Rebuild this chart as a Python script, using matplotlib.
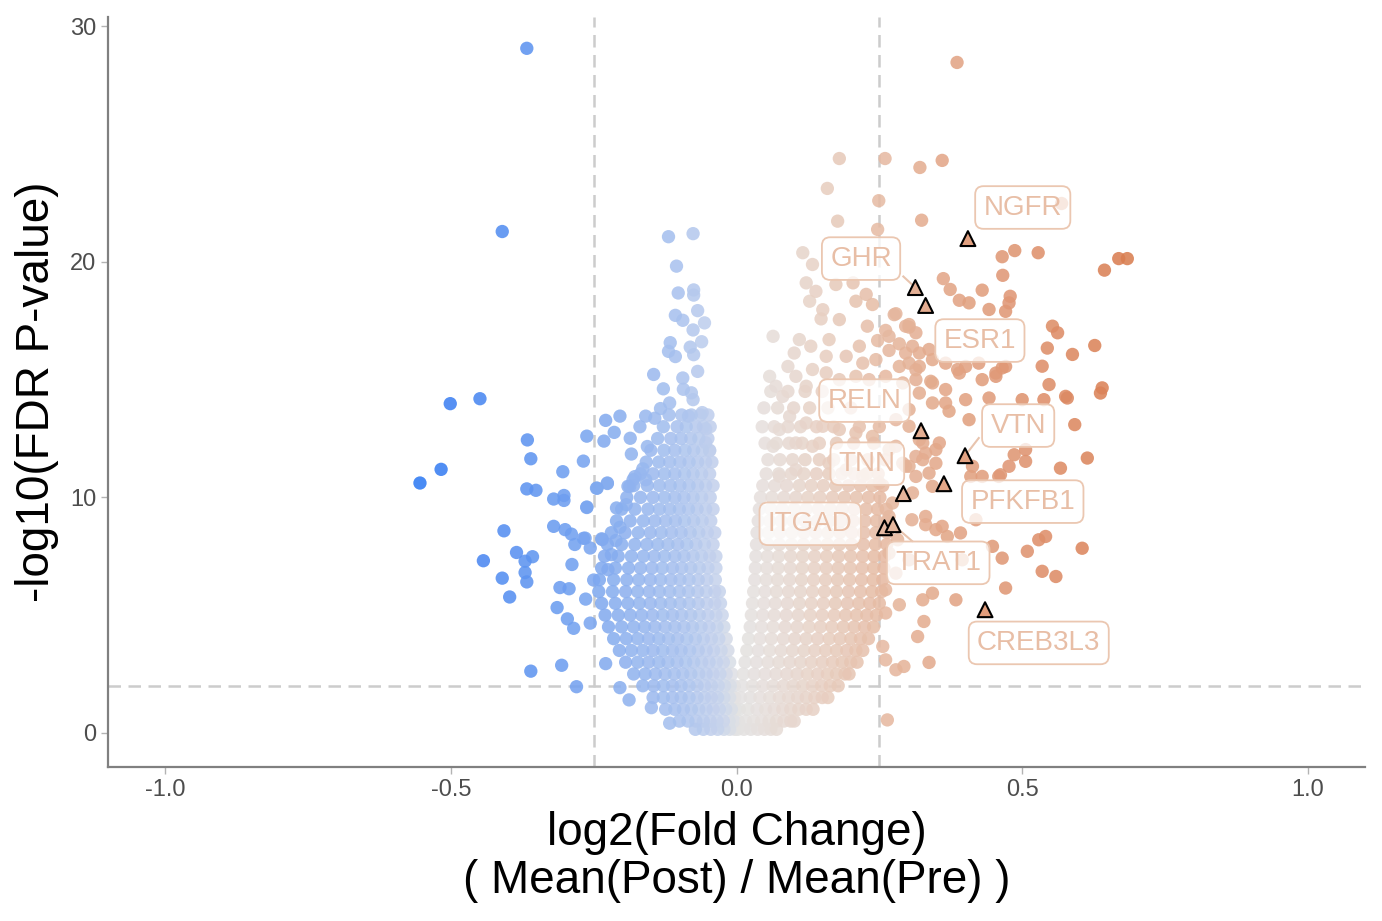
#!/usr/bin/env python3
# -*- coding: utf-8 -*-
'''
Volcano plot: log2 fold change (post / pre) against -log10 FDR p-value.
Values were read off the reference picture by eye.
'''

import numpy as np
import matplotlib
matplotlib.use('Agg')
from matplotlib import pyplot as plt
from matplotlib.colors import LinearSegmentedColormap, Normalize

## thresholds
fc_cut = 0.25
p_cut = 2.0

## isolated down-regulated genes (x = log2FC, y = -log10 FDR)
blue_pts = [
    (-0.367, 29.07), (-0.410, 21.29), (-0.501, 13.98), (-0.449, 14.19), (-0.517, 11.19), (-0.554, 10.61),
    (-0.366, 12.44), (-0.360, 11.64), (-0.367, 10.36), (-0.351, 10.30), (-0.304, 11.09), (-0.268, 11.54),
    (-0.262, 12.60), (-0.229, 13.27), (-0.204, 13.45), (-0.232, 12.39), (-0.214, 12.76), (-0.186, 12.51),
    (-0.184, 11.84), (-0.156, 12.16), (-0.169, 13.00), (-0.159, 13.45), (-0.143, 13.36), (-0.320, 9.93),
    (-0.302, 10.08), (-0.302, 9.87), (-0.262, 9.57), (-0.244, 10.39), (-0.226, 10.59), (-0.187, 10.46),
    (-0.178, 10.88), (-0.164, 11.21), (-0.159, 10.75), (-0.145, 15.22), (-0.128, 14.61), (-0.117, 14.01),
    (-0.133, 13.77), (-0.119, 21.07), (-0.076, 21.20), (-0.105, 19.82), (-0.102, 18.68), (-0.075, 18.81),
    (-0.075, 18.59), (-0.107, 17.73), (-0.094, 17.52), (-0.068, 17.93), (-0.056, 17.41), (-0.076, 17.11),
    (-0.116, 16.57), (-0.119, 16.20), (-0.107, 15.98), (-0.081, 16.38), (-0.061, 16.61), (-0.075, 16.06),
    (-0.068, 15.35), (-0.094, 15.07), (-0.093, 14.59), (-0.079, 14.44), (-0.076, 14.15), (-0.060, 13.60),
    (-0.084, 13.45), (-0.054, 12.91), (-0.054, 12.32), (-0.047, 11.98), (-0.407, 8.58), (-0.443, 7.31),
    (-0.385, 7.66), (-0.370, 7.29), (-0.357, 7.48), (-0.370, 6.81), (-0.367, 6.41), (-0.410, 6.57),
    (-0.397, 5.77), (-0.320, 8.77), (-0.300, 8.63), (-0.289, 8.44), (-0.268, 8.26), (-0.283, 8.00),
    (-0.256, 7.85), (-0.288, 7.15), (-0.235, 8.21), (-0.211, 8.17), (-0.204, 8.73), (-0.309, 6.17),
    (-0.293, 6.12), (-0.314, 5.32), (-0.296, 4.84), (-0.285, 4.44), (-0.264, 5.68), (-0.256, 4.66),
    (-0.250, 6.49), (-0.360, 2.62), (-0.306, 2.87), (-0.280, 1.96), (-0.229, 2.94), (-0.188, 1.40),
    (-0.149, 1.07), (-0.117, 0.41), (-0.204, 1.92), (-0.181, 10.75), (-0.190, 10.47), (-0.226, 10.61),
    (-0.245, 10.39), (-0.262, 9.59), (-0.210, 9.55), (-0.193, 9.69), (-0.236, 8.24), (-0.265, 8.27),
    (-0.219, 7.57), (-0.225, 6.93),
]

## isolated up-regulated / upper right genes
orange_pts = [
    (0.386, 28.47), (0.180, 24.39), (0.260, 24.39), (0.360, 24.31), (0.321, 24.01), (0.159, 23.12),
    (0.249, 22.60), (0.324, 21.77), (0.177, 21.73), (0.569, 22.48), (0.247, 21.38), (0.116, 20.39),
    (0.133, 19.89), (0.465, 20.22), (0.487, 20.48), (0.528, 20.39), (0.669, 20.14), (0.684, 20.14),
    (0.644, 19.65), (0.466, 19.43), (0.362, 19.29), (0.374, 18.83), (0.390, 18.37), (0.407, 18.26),
    (0.430, 18.80), (0.442, 17.98), (0.471, 17.90), (0.479, 18.54), (0.477, 18.26), (0.553, 17.27),
    (0.562, 16.99), (0.627, 16.45), (0.588, 16.07), (0.544, 16.34), (0.535, 15.57), (0.547, 14.79),
    (0.640, 14.65), (0.637, 14.43), (0.579, 14.22), (0.500, 14.15), (0.538, 14.15), (0.576, 14.29),
    (0.592, 13.09), (0.614, 11.67), (0.567, 11.24), (0.442, 14.22), (0.407, 13.30), (0.276, 17.76),
    (0.302, 17.34), (0.314, 16.99), (0.337, 16.28), (0.229, 17.27), (0.267, 16.84), (0.366, 15.70),
    (0.387, 15.43), (0.430, 15.00), (0.454, 15.14), (0.465, 15.50), (0.340, 14.93), (0.366, 14.58),
    (0.401, 14.15), (0.372, 13.66), (0.296, 17.27), (0.308, 16.42), (0.320, 16.13), (0.343, 15.85),
    (0.390, 15.28), (0.401, 15.56), (0.424, 15.70), (0.454, 15.28), (0.471, 15.56), (0.320, 15.56),
    (0.296, 16.13), (0.343, 14.86), (0.343, 14.01), (0.366, 14.01), (0.320, 14.43), (0.302, 13.73),
    (0.506, 12.03), (0.506, 11.53), (0.486, 11.81), (0.459, 10.89), (0.430, 10.89), (0.477, 11.32),
    (0.410, 10.89), (0.413, 11.32), (0.462, 10.96), (0.320, 12.45), (0.355, 12.31), (0.331, 11.88),
    (0.349, 11.45), (0.296, 11.32), (0.314, 10.89), (0.343, 10.47), (0.308, 10.19), (0.331, 9.19),
    (0.360, 8.77), (0.392, 8.49), (0.419, 9.05), (0.529, 8.20), (0.541, 8.34), (0.509, 7.71),
    (0.535, 6.86), (0.559, 6.64), (0.605, 7.84), (0.465, 7.42), (0.471, 6.15), (0.448, 7.92),
    (0.395, 7.35), (0.384, 5.65), (0.343, 5.93), (0.326, 5.65), (0.328, 4.73), (0.317, 4.09),
    (0.285, 5.44), (0.337, 2.99), (0.293, 2.82), (0.264, 0.55), (0.261, 3.10), (0.307, 9.05),
    (0.331, 8.84), (0.349, 8.63), (0.369, 8.34), (0.273, 9.76), (0.267, 9.19), (0.282, 8.20),
    (0.267, 7.63), (0.302, 7.35), (0.279, 6.78), (0.261, 6.08), (0.261, 5.09), (0.256, 3.67),
    (0.279, 2.68), (0.349, 12.03), (0.326, 11.60), (0.337, 11.03), (0.302, 11.32), (0.279, 12.17),
    (0.279, 17.80), (0.302, 17.23), (0.261, 17.09), (0.285, 16.52), (0.267, 16.24), (0.247, 16.66),
    (0.302, 15.70), (0.314, 15.42), (0.285, 15.56), (0.244, 15.85), (0.215, 16.42), (0.221, 15.70),
    (0.192, 15.99), (0.162, 16.70), (0.157, 15.99), (0.130, 16.42), (0.110, 16.70), (0.101, 16.13),
    (0.090, 15.56), (0.064, 16.84), (0.122, 19.11), (0.139, 18.75), (0.128, 18.33), (0.151, 17.97),
    (0.174, 19.04), (0.204, 19.11), (0.209, 18.33), (0.227, 18.62), (0.238, 18.19), (0.180, 17.55),
    (0.148, 17.58), (0.058, 15.14), (0.069, 14.72), (0.081, 14.29), (0.104, 15.14), (0.122, 14.72),
    (0.133, 15.43), (0.157, 15.29), (0.180, 15.00), (0.209, 15.14), (0.232, 15.00), (0.261, 15.14),
    (0.291, 14.86), (0.314, 15.00), (0.279, 13.30), (0.302, 13.02), (0.326, 12.31), (0.314, 11.74),
    (0.291, 11.45), (0.267, 12.03), (0.238, 12.59), (0.209, 12.74), (0.180, 12.88), (0.151, 13.02),
    (0.122, 13.16), (0.093, 13.44), (0.075, 12.88), (0.064, 12.17), (0.104, 12.31), (0.133, 12.17),
    (0.162, 11.45), (0.192, 11.17), (0.221, 10.90), (0.250, 10.61), (0.104, 11.17), (0.075, 10.90),
]

## dense cores, one row per -log10 FDR level: (y, [log2FC values])
left_rows = [
    (13.5, [-0.118, -0.096, -0.079, -0.063, -0.050]),
    (13.0, [-0.128, -0.104, -0.088, -0.071, -0.058, -0.046]),
    (12.5, [-0.138, -0.115, -0.097, -0.080, -0.066, -0.050]),
    (12.0, [-0.150, -0.127, -0.108, -0.090, -0.075, -0.060, -0.047]),
    (11.5, [-0.158, -0.136, -0.117, -0.099, -0.083, -0.068, -0.054, -0.043]),
    (11.0, [-0.168, -0.146, -0.126, -0.108, -0.091, -0.076, -0.061, -0.047]),
    (10.5, [-0.180, -0.156, -0.135, -0.116, -0.099, -0.083, -0.068, -0.054, -0.041]),
    (10.0, [-0.192, -0.168, -0.146, -0.126, -0.108, -0.092, -0.076, -0.061, -0.046]),
    (9.5, [-0.201, -0.178, -0.155, -0.135, -0.117, -0.100, -0.084, -0.069, -0.054, -0.041]),
    (9.0, [-0.210, -0.186, -0.163, -0.143, -0.124, -0.107, -0.091, -0.075, -0.060, -0.045]),
    (8.5, [-0.219, -0.195, -0.172, -0.151, -0.132, -0.114, -0.097, -0.081, -0.066, -0.051, -0.038]),
    (8.0, [-0.226, -0.201, -0.178, -0.157, -0.138, -0.120, -0.103, -0.087, -0.071, -0.056, -0.041]),
    (7.5, [-0.231, -0.207, -0.184, -0.163, -0.144, -0.126, -0.108, -0.092, -0.076, -0.061, -0.047, -0.036]),
    (7.0, [-0.236, -0.212, -0.189, -0.168, -0.148, -0.130, -0.112, -0.096, -0.080, -0.065, -0.050, -0.036]),
    (6.5, [-0.240, -0.215, -0.192, -0.171, -0.151, -0.133, -0.115, -0.099, -0.083, -0.067, -0.052, -0.037]),
    (6.0, [-0.241, -0.217, -0.194, -0.173, -0.153, -0.135, -0.117, -0.100, -0.084, -0.068, -0.053, -0.038, -0.030]),
    (5.5, [-0.236, -0.212, -0.190, -0.170, -0.151, -0.133, -0.116, -0.099, -0.083, -0.067, -0.052, -0.038, -0.028]),
    (5.0, [-0.230, -0.207, -0.186, -0.166, -0.147, -0.129, -0.112, -0.096, -0.080, -0.065, -0.050, -0.036, -0.025]),
    (4.5, [-0.224, -0.201, -0.180, -0.161, -0.143, -0.125, -0.108, -0.092, -0.077, -0.062, -0.048, -0.034, -0.022]),
    (4.0, [-0.215, -0.193, -0.173, -0.154, -0.136, -0.119, -0.103, -0.087, -0.072, -0.058, -0.044, -0.031, -0.018]),
    (3.5, [-0.205, -0.184, -0.164, -0.146, -0.129, -0.112, -0.097, -0.082, -0.067, -0.053, -0.040, -0.027, -0.015]),
    (3.0, [-0.194, -0.173, -0.154, -0.136, -0.120, -0.104, -0.089, -0.075, -0.061, -0.048, -0.035, -0.023, -0.012]),
    (2.5, [-0.180, -0.160, -0.142, -0.125, -0.109, -0.094, -0.080, -0.066, -0.053, -0.041, -0.029, -0.018, -0.008]),
    (2.0, [-0.164, -0.145, -0.128, -0.112, -0.097, -0.083, -0.069, -0.056, -0.044, -0.032, -0.021, -0.011, -0.004]),
    (1.5, [-0.146, -0.128, -0.112, -0.097, -0.083, -0.069, -0.056, -0.044, -0.033, -0.022, -0.012, -0.003]),
    (1.0, [-0.124, -0.108, -0.093, -0.079, -0.066, -0.053, -0.041, -0.030, -0.019, -0.009, -0.001]),
    (0.5, [-0.100, -0.085, -0.071, -0.058, -0.046, -0.034, -0.023, -0.013, -0.004]),
    (0.15, [-0.072, -0.058, -0.045, -0.033, -0.022, -0.012, -0.003]),
]

right_rows = [
    (14.5, [0.060, 0.090, 0.120, 0.150]),
    (13.8, [0.048, 0.072, 0.100, 0.128, 0.160, 0.200]),
    (13.0, [0.045, 0.066, 0.090, 0.112, 0.140, 0.170, 0.215, 0.250]),
    (12.3, [0.050, 0.070, 0.092, 0.115, 0.145, 0.175, 0.205, 0.240]),
    (11.6, [0.055, 0.076, 0.098, 0.120, 0.145, 0.170, 0.200, 0.230, 0.260]),
    (11.0, [0.052, 0.074, 0.096, 0.118, 0.140, 0.162, 0.184, 0.206, 0.228, 0.248]),
    (10.5, [0.046, 0.067, 0.088, 0.110, 0.131, 0.152, 0.174, 0.196, 0.217, 0.238, 0.256]),
    (10.0, [0.042, 0.062, 0.083, 0.104, 0.125, 0.146, 0.168, 0.189, 0.210, 0.231, 0.251]),
    (9.5, [0.040, 0.060, 0.080, 0.101, 0.122, 0.143, 0.164, 0.185, 0.206, 0.227, 0.247, 0.262]),
    (9.0, [0.038, 0.058, 0.078, 0.099, 0.120, 0.141, 0.162, 0.183, 0.204, 0.225, 0.245, 0.264]),
    (8.5, [0.036, 0.056, 0.076, 0.097, 0.118, 0.139, 0.160, 0.181, 0.202, 0.223, 0.244, 0.264]),
    (8.0, [0.035, 0.055, 0.075, 0.096, 0.117, 0.138, 0.159, 0.180, 0.201, 0.222, 0.243, 0.263]),
    (7.5, [0.034, 0.054, 0.074, 0.095, 0.116, 0.137, 0.158, 0.179, 0.200, 0.221, 0.241, 0.259]),
    (7.0, [0.033, 0.053, 0.073, 0.094, 0.115, 0.136, 0.157, 0.178, 0.199, 0.220, 0.240, 0.258]),
    (6.5, [0.032, 0.052, 0.072, 0.093, 0.114, 0.135, 0.156, 0.177, 0.198, 0.219, 0.239, 0.256]),
    (6.0, [0.030, 0.050, 0.070, 0.091, 0.112, 0.133, 0.154, 0.175, 0.196, 0.217, 0.237, 0.254]),
    (5.5, [0.028, 0.048, 0.068, 0.089, 0.110, 0.131, 0.152, 0.173, 0.194, 0.214, 0.233, 0.250]),
    (5.0, [0.026, 0.046, 0.066, 0.087, 0.108, 0.129, 0.150, 0.171, 0.191, 0.210, 0.228, 0.245]),
    (4.5, [0.024, 0.044, 0.064, 0.085, 0.106, 0.127, 0.147, 0.167, 0.187, 0.206, 0.224, 0.240]),
    (4.0, [0.021, 0.041, 0.061, 0.082, 0.102, 0.122, 0.142, 0.162, 0.181, 0.200, 0.217, 0.231]),
    (3.5, [0.018, 0.038, 0.058, 0.078, 0.098, 0.118, 0.137, 0.156, 0.175, 0.193, 0.209, 0.221]),
    (3.0, [0.015, 0.035, 0.055, 0.074, 0.093, 0.112, 0.131, 0.150, 0.168, 0.185, 0.200, 0.211]),
    (2.5, [0.012, 0.031, 0.050, 0.069, 0.088, 0.106, 0.124, 0.142, 0.159, 0.175, 0.190, 0.197]),
    (2.0, [0.010, 0.028, 0.046, 0.064, 0.082, 0.099, 0.116, 0.133, 0.149, 0.164, 0.178]),
    (1.5, [0.007, 0.024, 0.041, 0.058, 0.075, 0.091, 0.107, 0.122, 0.137, 0.150, 0.160]),
    (1.0, [0.005, 0.020, 0.036, 0.051, 0.066, 0.081, 0.095, 0.109, 0.122, 0.134]),
    (0.5, [0.003, 0.016, 0.030, 0.044, 0.057, 0.070, 0.083, 0.095, 0.101]),
    (0.15, [0.002, 0.013, 0.025, 0.037, 0.049, 0.060, 0.070]),
]

## highlighted genes
genes = ['NGFR', 'GHR', 'ESR1', 'RELN', 'VTN', 'TNN', 'PFKFB1', 'ITGAD', 'TRAT1', 'CREB3L3']
gene_fc = [0.405, 0.313, 0.331, 0.323, 0.400, 0.292, 0.363, 0.259, 0.274, 0.435]
gene_p = [20.99, 18.91, 18.15, 12.83, 11.77, 10.16, 10.58, 8.71, 8.84, 5.23]
label_fc = [0.501, 0.218, 0.426, 0.224, 0.493, 0.229, 0.501, 0.129, 0.353, 0.529]
label_p = [22.31, 20.14, 16.66, 14.11, 13.05, 11.43, 9.82, 8.88, 7.22, 3.82]
# where the repel segment leaves the label box (None = no visible segment)
seg_start = [None, (0.292, 19.38), None, None, (0.424, 12.52), None, None, None, (0.308, 8.13), None]

xticks = [-1.0, -0.5, 0.0, 0.5, 1.0]
yticks = [0, 10, 20, 30]

## colour gradient over log2FC (blue -> grey -> orange)
grad_x = [-0.56, -0.45, -0.30, -0.20, -0.10, -0.03, 0.0, 0.05, 0.15, 0.25, 0.35, 0.50, 0.69]
grad_c = ['#2f7af3', '#4b88f1', '#6f9ff0', '#8db1ef', '#abc3ee', '#c8d4ec', '#e3e3e3',
          '#e6dfdc', '#e8d0c3', '#e6bca5', '#e3a98b', '#df9471', '#d97d50']


def collect_points():
    xs, ys = [], []
    for pts in (blue_pts, orange_pts):
        for x, y in pts:
            xs.append(x)
            ys.append(y)
    for rows in (left_rows, right_rows):
        for y, row in rows:
            for x in row:
                xs.append(x)
                ys.append(y)
    return np.array(xs), np.array(ys)


def make_cmap():
    lo, hi = grad_x[0], grad_x[-1]
    pos = [(v - lo) / (hi - lo) for v in grad_x]
    cmap = LinearSegmentedColormap.from_list('fc', list(zip(pos, grad_c)))
    return cmap, Normalize(lo, hi)


def plot_volcano(fn='out.png'):
    plt.rcParams['font.family'] = ['Liberation Sans', 'DejaVu Sans']
    plt.rcParams['axes.unicode_minus'] = False

    fig = plt.figure(figsize=(13.82, 9.21), dpi=100)
    ax = fig.add_axes([108 / 1382, 1 - 767 / 921, (1365 - 108) / 1382, (767 - 17) / 921])

    cmap, norm = make_cmap()
    x, y = collect_points()
    # draw the flattest points first so the bright outliers sit on top
    order = np.argsort(np.abs(x))
    ax.scatter(x[order], y[order], c=x[order], cmap=cmap, norm=norm, s=92,
               alpha=0.88, linewidths=0, zorder=2)

    dash = (0, (5, 3))
    ax.axvline(-fc_cut, color='#cccccc', lw=1.8, ls=dash, zorder=1)
    ax.axvline(fc_cut, color='#cccccc', lw=1.8, ls=dash, zorder=1)
    ax.axhline(p_cut, color='#cccccc', lw=1.8, ls=dash, zorder=1)

    lab_col = '#e8bea6'
    for i, g in enumerate(genes):
        if seg_start[i] is not None:
            ax.plot([seg_start[i][0], gene_fc[i]], [seg_start[i][1], gene_p[i]],
                    color='#e8c4ae', lw=1.5, zorder=3)
        ax.text(label_fc[i], label_p[i], g, fontsize=20, color=lab_col,
                ha='center', va='center', zorder=5,
                bbox=dict(boxstyle='round,pad=0.3,rounding_size=0.3', fc=(1, 1, 1, 0.78),
                          ec='#ebc7b1', lw=1.3))
    ax.scatter(gene_fc, gene_p, c=gene_fc, cmap=cmap, norm=norm, marker='^', s=115,
               edgecolors='black', linewidths=1.5, zorder=4)

    ax.set_xlim(-1.1, 1.1)
    ax.set_ylim(-1.45, 30.4)
    ax.set_xticks(xticks)
    ax.set_xticklabels([f'{v:.1f}' for v in xticks])
    ax.set_yticks(yticks)
    ax.tick_params(labelsize=17, labelcolor='#4d4d4d', color='#b3b3b3', length=5, width=1)
    for side in ('top', 'right'):
        ax.spines[side].set_visible(False)
    for side in ('left', 'bottom'):
        ax.spines[side].set_color('#808080')
        ax.spines[side].set_linewidth(1.6)

    fig.text(37 / 1382, 1 - 392 / 921, '-log10(FDR P-value)', rotation=90, fontsize=33,
             ha='center', va='center')
    fig.text(737 / 1382, 1 - 845 / 921, 'log2(Fold Change)', fontsize=33, ha='center', va='baseline')
    fig.text(737 / 1382, 1 - 893 / 921, '( Mean(Post) / Mean(Pre) )', fontsize=33,
             ha='center', va='baseline')

    fig.savefig(fn, dpi=100)
    print(f"Volcano plot saved to {fn}")


if __name__ == "__main__":
    plot_volcano('out.png')
